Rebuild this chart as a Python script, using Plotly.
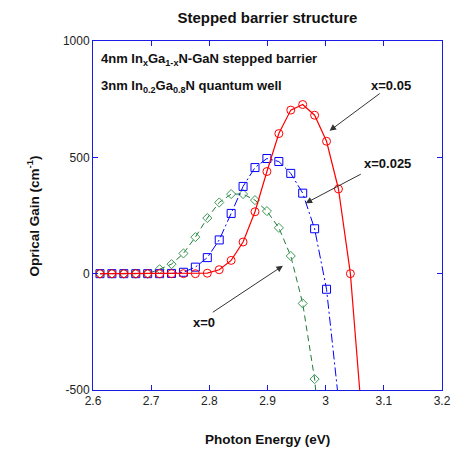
import plotly.graph_objects as go

# Photon energy grid (eV)
energy = [2.612, 2.6325, 2.653, 2.6735, 2.694, 2.7145, 2.735, 2.7555, 2.776, 2.7965,
          2.817, 2.8375, 2.858, 2.8785, 2.899, 2.9195, 2.94, 2.9605, 2.981, 3.0015,
          3.022, 3.0425, 3.063]

# Optical gain (cm^-1)
gain_x005 = [0, 0, 0, 0, 0, 0, 0, 0, 0, 2,
             17, 57, 136, 266, 439, 602, 703, 727, 681, 569,
             364, 0, -640]
gain_x0025 = [0, 0, 0, 0, 0, 0, 1, 6, 28, 69,
              145, 259, 375, 456, 495, 482, 431, 346, 193, -67,
              -540]
gain_x0 = [0, 0, 0, 0, 0, 19, 41, 87, 157, 239,
           306, 342, 342, 316, 269, 197, 76, -128, -453, -1000]

x_ticks = [2.6, 2.7, 2.8, 2.9, 3.0, 3.1, 3.2]
x_tick_text = ["2.6", "2.7", "2.8", "2.9", "3", "3.1", "3.2"]
y_ticks = [-500, 0, 500, 1000]
y_tick_text = ["-500", "0", "500", "1000"]

FONT = "Liberation Sans, Arial, sans-serif"
AXIS_BLUE = "#1a1ae6"

fig = go.Figure()

fig.add_trace(go.Scatter(
    x=energy[:len(gain_x0)], y=gain_x0, mode="lines+markers",
    line=dict(color="#1f7a3a", width=1, dash="6px,4px"),
    marker=dict(symbol="diamond-open", size=7, color="#3c9a55", line=dict(width=1)),
    showlegend=False))

fig.add_trace(go.Scatter(
    x=energy[:len(gain_x0025)], y=gain_x0025, mode="lines+markers",
    line=dict(color="#0000ff", width=1, dash="9px,3px,2px,3px"),
    marker=dict(symbol="square-open", size=8, color="#0000ff", line=dict(width=1)),
    showlegend=False))

fig.add_trace(go.Scatter(
    x=energy[:len(gain_x005)], y=gain_x005, mode="lines+markers",
    line=dict(color="#ff0000", width=1.2),
    marker=dict(symbol="circle-open", size=8, color="#ff0000", line=dict(width=1)),
    showlegend=False))

ANN = dict(family=FONT, size=13, color="#111")
annotations = [
    dict(x=2.610, y=922, xref="x", yref="y", xanchor="left", yanchor="middle",
         text="<b>4nm In<sub>x</sub>Ga<sub>1-x</sub>N-GaN stepped barrier</b>",
         showarrow=False, font=ANN),
    dict(x=2.610, y=806, xref="x", yref="y", xanchor="left", yanchor="middle",
         text="<b>3nm In<sub>0.2</sub>Ga<sub>0.8</sub>N quantum well</b>",
         showarrow=False, font=ANN),
    dict(x=3.112, y=810, xref="x", yref="y", text="<b>x=0.05</b>", showarrow=False, font=ANN),
    dict(x=3.106, y=475, xref="x", yref="y", text="<b>x=0.025</b>", showarrow=False, font=ANN),
    dict(x=2.7905, y=-208, xref="x", yref="y", text="<b>x=0</b>", showarrow=False, font=ANN),
    # arrows
    dict(x=3.0067, y=614, ax=3.0955, ay=779, xref="x", yref="y", axref="x", ayref="y",
         text="", showarrow=True, arrowhead=2, arrowsize=1.3, arrowwidth=1, arrowcolor="#333"),
    dict(x=2.9655, y=303, ax=3.063, ay=431, xref="x", yref="y", axref="x", ayref="y",
         text="", showarrow=True, arrowhead=2, arrowsize=1.3, arrowwidth=1, arrowcolor="#333"),
    dict(x=2.9265, y=34, ax=2.8034, ay=-170, xref="x", yref="y", axref="x", ayref="y",
         text="", showarrow=True, arrowhead=2, arrowsize=1.3, arrowwidth=1, arrowcolor="#333"),
    # axis titles placed explicitly in paper coordinates
    dict(x=0.5, y=-0.143, xref="paper", yref="paper", xanchor="center", yanchor="middle",
         text="<b>Photon Energy (eV)</b>", showarrow=False,
         font=dict(family=FONT, size=13.5, color="#111")),
    dict(x=-0.172, y=0.5, xref="paper", yref="paper", xanchor="center", yanchor="middle",
         text="<b>Oprical Gain (cm<sup>-1</sup>)</b>", showarrow=False, textangle=-90,
         font=dict(family=FONT, size=13.5, color="#111")),
]

fig.update_layout(
    width=451, height=454,
    margin=dict(l=93, r=9, t=41, b=64),
    paper_bgcolor="white", plot_bgcolor="white",
    title=dict(text="<b>Stepped barrier structure</b>", x=0.593, xanchor="center",
               y=0.96, yanchor="middle", font=dict(family=FONT, size=15, color="#111")),
    font=dict(family=FONT, size=12, color="#222"),
    annotations=annotations,
)

fig.update_xaxes(
    range=[2.6, 3.2], tickvals=x_ticks, ticktext=x_tick_text, automargin=False,
    showline=True, linecolor=AXIS_BLUE, linewidth=1, mirror="ticks",
    ticks="inside", ticklen=5, tickcolor=AXIS_BLUE, showgrid=False, zeroline=False,
    tickfont=dict(family=FONT, size=12, color="#222"),
)
fig.update_yaxes(
    range=[-500, 1000], tickvals=y_ticks, ticktext=y_tick_text, automargin=False,
    showline=True, linecolor=AXIS_BLUE, linewidth=1, mirror="ticks",
    ticks="inside", ticklen=5, tickcolor=AXIS_BLUE, showgrid=False, zeroline=False,
    tickfont=dict(family=FONT, size=12, color="#222"),
)

# Remove the page's default body margin so the figure sits at the window origin.
fig.write_html(
    "out.html",
    config={"displayModeBar": False},
    post_script="document.body.style.margin='0';document.body.style.overflow='hidden';",
)
